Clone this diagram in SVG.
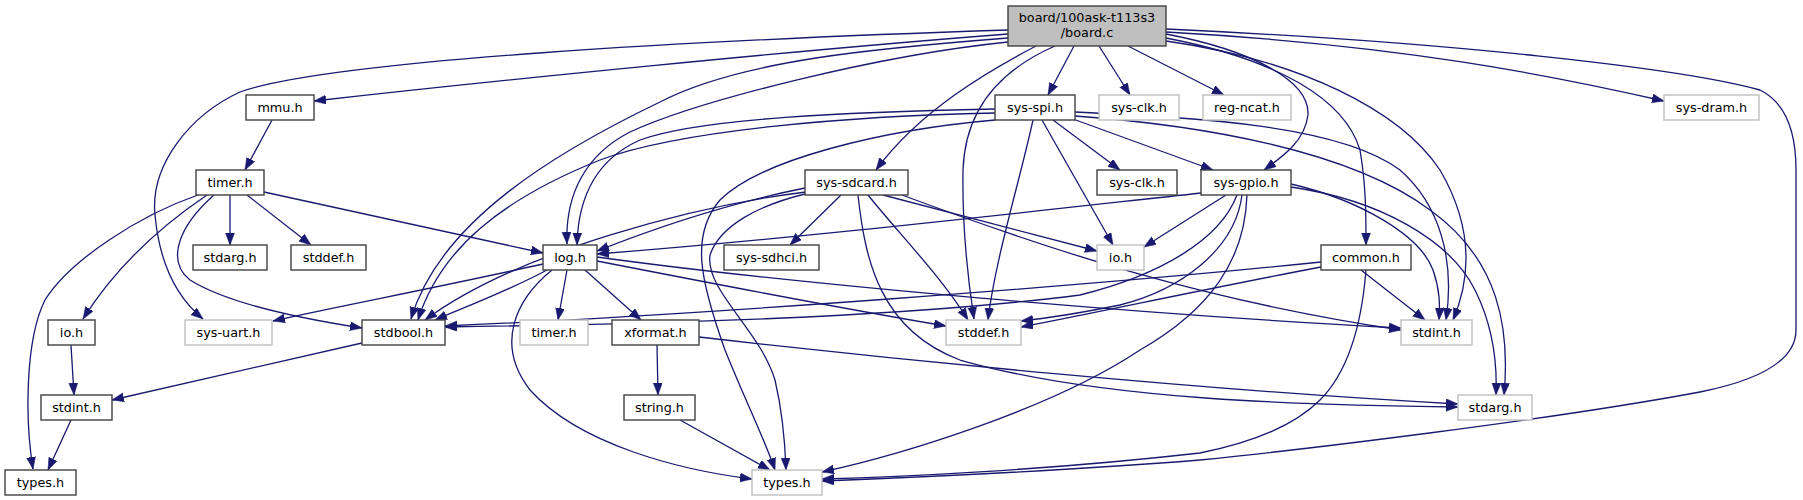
<svg xmlns="http://www.w3.org/2000/svg" width="1803" height="500" viewBox="0 0 1803 500">
<style>
.n rect{fill:#fff;stroke:#404040;stroke-width:1.4}
.g rect{fill:#fff;stroke:#bfbfbf;stroke-width:1.4}
.root rect{fill:#bfbfbf;stroke:#404040;stroke-width:1.4}
text{font-family:"DejaVu Sans","Liberation Sans",sans-serif;font-size:12.8px;fill:#000;text-anchor:middle}
.e path{fill:none;stroke:#191970;stroke-width:1.3;marker-end:url(#ah)}
</style>
<defs>
<marker id="ah" markerUnits="userSpaceOnUse" markerWidth="13" markerHeight="10" refX="12" refY="4.5" orient="auto">
<path d="M0,0 L12,4.5 L0,9 z" fill="#191970" stroke="#191970" stroke-width="0.5"/>
</marker>
</defs>
<rect width="1803" height="500" fill="#fff"/>
<g class="e" id="edges">
<path d="M1008,30 C700,40 330,60 240,92 C190,115 150,165 155,215 C160,270 180,300 203,319"/>
<path d="M1008,34 C800,50 500,80 314,101"/>
<path d="M1008,38 C880,48 740,60 660,102 C560,150 440,220 411,319"/>
<path d="M1008,42 C880,55 700,100 630,132 C585,155 565,195 567,244"/>
<path d="M1036,46 C990,70 920,110 876,170"/>
<path d="M1055,46 C1000,70 965,110 963,170 C962,230 968,280 974,319"/>
<path d="M1074,46 L1048,95"/>
<path d="M1099,46 L1130,95"/>
<path d="M1128,46 L1224,95"/>
<path d="M1166,34 C1250,50 1310,80 1308,115 C1305,140 1285,155 1264,170"/>
<path d="M1166,38 C1280,60 1345,100 1360,150 C1366,185 1366,215 1366,245"/>
<path d="M1166,41 C1300,60 1400,110 1440,170 C1475,230 1470,280 1453,320"/>
<path d="M1166,32 C1400,45 1550,75 1664,101"/>
<path d="M1166,29 C1450,42 1680,68 1760,90 C1790,105 1796,140 1796,170 L1796,330 C1796,360 1760,380 1700,392 C1550,420 1300,450 1200,460 C1050,472 900,478 822,481"/>
<path d="M272,120 L245,170"/>
<path d="M198,195 C140,215 70,260 45,300 C25,340 25,420 33,469"/>
<path d="M207,195 C170,220 120,260 83,319"/>
<path d="M214,195 C180,225 165,260 190,280 C230,305 310,320 362,328"/>
<path d="M230,195 L230,245"/>
<path d="M247,195 L311,245"/>
<path d="M264,192 L543,253"/>
<path d="M71,345 L74,395"/>
<path d="M71,420 L48,470"/>
<path d="M362,343 L112,400"/>
<path d="M543,264 C450,285 330,308 273,321"/>
<path d="M547,270 C510,290 470,305 435,320"/>
<path d="M567,270 L558,320"/>
<path d="M585,270 L641,320"/>
<path d="M552,270 C515,300 495,345 530,390 C580,445 680,470 752,479"/>
<path d="M597,261 C720,285 850,310 946,326"/>
<path d="M597,257 C800,285 1150,315 1401,328"/>
<path d="M657,345 L658,395"/>
<path d="M699,337 C900,360 1200,390 1458,404"/>
<path d="M680,420 L770,470"/>
<path d="M995,109 C850,112 700,118 640,140 C595,160 578,200 577,245"/>
<path d="M995,113 C850,116 680,130 600,160 C500,200 440,250 418,320"/>
<path d="M995,120 C880,130 760,160 720,200 C690,235 700,280 725,350 C745,400 765,440 775,470"/>
<path d="M1033,120 C1020,180 995,260 988,320"/>
<path d="M1042,120 L1113,245"/>
<path d="M1053,120 L1120,170"/>
<path d="M1073,119 L1213,170"/>
<path d="M1075,112 C1200,118 1340,125 1400,170 C1440,205 1455,260 1446,320"/>
<path d="M1075,116 C1200,125 1350,150 1430,210 C1500,260 1510,330 1504,395"/>
<path d="M805,188 C720,205 650,230 597,251"/>
<path d="M806,192 C700,205 520,250 425,320"/>
<path d="M841,195 L790,245"/>
<path d="M805,194 C760,205 720,225 710,255 C705,290 760,330 775,380 C782,410 785,440 786,470"/>
<path d="M868,195 C900,235 940,275 968,320"/>
<path d="M883,195 L1097,251"/>
<path d="M902,195 C1050,250 1200,300 1401,330"/>
<path d="M858,195 C865,260 880,330 960,360 C1100,400 1300,405 1458,407"/>
<path d="M1201,193 C1000,215 800,238 597,254"/>
<path d="M1226,195 L1144,247"/>
<path d="M1237,195 C1220,240 1160,275 1080,295 C900,318 650,324 445,327"/>
<path d="M1242,195 C1235,250 1180,290 1120,305 C1080,313 1050,318 1021,321"/>
<path d="M1247,195 C1245,260 1210,310 1140,350 C1050,410 900,455 822,472"/>
<path d="M1291,184 C1360,200 1420,235 1433,270 C1440,290 1440,305 1439,320"/>
<path d="M1291,187 C1380,200 1450,240 1475,290 C1495,330 1497,370 1496,395"/>
<path d="M1321,262 C1100,285 700,315 445,326"/>
<path d="M1321,267 C1200,290 1100,312 1021,327"/>
<path d="M1361,270 L1425,320"/>
<path d="M1366,270 C1362,320 1350,370 1320,400 C1290,430 1240,445 1200,453 C1050,470 900,477 822,479"/>
</g>
<g id="board" class="root"><rect x="1008" y="6" width="158" height="40"/><text x="1087" y="21.5">board/100ask-t113s3</text><text x="1087" y="36.5">/board.c</text></g>
<g id="mmu" class="n"><rect x="246" y="95" width="68" height="25"/><text x="280" y="112">mmu.h</text></g>
<g id="sys-spi" class="n"><rect x="995" y="95" width="80" height="25"/><text x="1035" y="112">sys-spi.h</text></g>
<g id="sys-clk-g" class="g"><rect x="1099" y="95" width="80" height="25"/><text x="1139" y="112">sys-clk.h</text></g>
<g id="reg-ncat" class="g"><rect x="1203" y="95" width="88" height="25"/><text x="1247" y="112">reg-ncat.h</text></g>
<g id="sys-dram" class="g"><rect x="1664" y="95" width="95" height="25"/><text x="1711.5" y="112">sys-dram.h</text></g>
<g id="timer" class="n"><rect x="196" y="170" width="68" height="25"/><text x="230" y="187">timer.h</text></g>
<g id="sys-sdcard" class="n"><rect x="805" y="170" width="103" height="25"/><text x="856.5" y="187">sys-sdcard.h</text></g>
<g id="sys-clk" class="n"><rect x="1097" y="170" width="80" height="25"/><text x="1137" y="187">sys-clk.h</text></g>
<g id="sys-gpio" class="n"><rect x="1201" y="170" width="90" height="25"/><text x="1246" y="187">sys-gpio.h</text></g>
<g id="stdarg" class="n"><rect x="193" y="245" width="74" height="25"/><text x="230" y="262">stdarg.h</text></g>
<g id="stddef" class="n"><rect x="291" y="245" width="75" height="25"/><text x="328.5" y="262">stddef.h</text></g>
<g id="log" class="n"><rect x="543" y="245" width="54" height="25"/><text x="570" y="262">log.h</text></g>
<g id="sys-sdhci" class="n"><rect x="724" y="245" width="95" height="25"/><text x="771.5" y="262">sys-sdhci.h</text></g>
<g id="io-g" class="g"><rect x="1097" y="245" width="47" height="25"/><text x="1120.5" y="262">io.h</text></g>
<g id="common" class="n"><rect x="1321" y="245" width="90" height="25"/><text x="1366" y="262">common.h</text></g>
<g id="io" class="n"><rect x="48" y="320" width="47" height="25"/><text x="71.5" y="337">io.h</text></g>
<g id="sys-uart" class="g"><rect x="185" y="320" width="87" height="25"/><text x="228.5" y="337">sys-uart.h</text></g>
<g id="stdbool" class="n"><rect x="362" y="320" width="83" height="25"/><text x="403.5" y="337">stdbool.h</text></g>
<g id="timer-g" class="g"><rect x="520" y="320" width="68" height="25"/><text x="554" y="337">timer.h</text></g>
<g id="xformat" class="n"><rect x="612" y="320" width="87" height="25"/><text x="655.5" y="337">xformat.h</text></g>
<g id="stddef-g" class="g"><rect x="946" y="320" width="75" height="25"/><text x="983.5" y="337">stddef.h</text></g>
<g id="stdint-g" class="g"><rect x="1401" y="320" width="71" height="25"/><text x="1436.5" y="337">stdint.h</text></g>
<g id="stdint" class="n"><rect x="41" y="395" width="71" height="25"/><text x="76.5" y="412">stdint.h</text></g>
<g id="string" class="n"><rect x="624" y="395" width="71" height="25"/><text x="659.5" y="412">string.h</text></g>
<g id="stdarg-g" class="g"><rect x="1458" y="395" width="74" height="25"/><text x="1495" y="412">stdarg.h</text></g>
<g id="types" class="n"><rect x="5" y="470" width="71" height="25"/><text x="40.5" y="487">types.h</text></g>
<g id="types-g" class="g"><rect x="752" y="470" width="70" height="25"/><text x="787" y="487">types.h</text></g>
</svg>
